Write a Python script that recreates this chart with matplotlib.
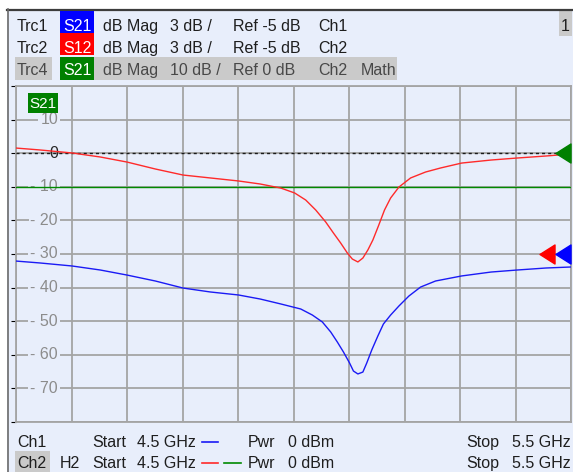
import numpy as np
import matplotlib
matplotlib.use("Agg")
import matplotlib.pyplot as plt
from matplotlib.path import Path
from matplotlib.patches import Rectangle
from matplotlib import transforms

plt.rcParams['font.family'] = ['Liberation Sans', 'DejaVu Sans']

# ---- trace data ----
# Trc1: S21, Ch1, dB Mag, 3 dB/div, Ref -5 dB
trc1_freq_ghz = [4.500, 4.543, 4.601, 4.652, 4.700, 4.751, 4.801, 4.850, 4.901, 4.940,
                 4.977, 5.013, 5.034, 5.052, 5.067, 5.079, 5.090, 5.101, 5.108, 5.116,
                 5.125, 5.132, 5.141, 5.152, 5.162, 5.175, 5.190, 5.208, 5.229, 5.256,
                 5.303, 5.356, 5.403, 5.455, 5.500]
trc1_db = [-5.63, -5.80, -6.07, -6.43, -6.88, -7.41, -8.04, -8.39, -8.66, -9.02,
           -9.46, -9.91, -10.45, -11.07, -11.96, -12.86, -13.75, -14.73, -15.45, -15.71,
           -15.54, -14.73, -13.57, -12.32, -11.25, -10.45, -9.64, -8.75, -7.95, -7.41,
           -6.96, -6.61, -6.43, -6.25, -6.16]

# Trc2: S12, Ch2, dB Mag, 3 dB/div, Ref -5 dB
trc2_freq_ghz = [4.500, 4.543, 4.601, 4.652, 4.700, 4.751, 4.801, 4.850, 4.901, 4.940,
                 4.977, 5.002, 5.022, 5.040, 5.058, 5.072, 5.085, 5.097, 5.106, 5.116,
                 5.125, 5.134, 5.143, 5.153, 5.164, 5.175, 5.190, 5.211, 5.238, 5.265,
                 5.303, 5.356, 5.403, 5.455, 5.500]
trc2_db = [4.46, 4.29, 4.02, 3.66, 3.21, 2.59, 2.05, 1.79, 1.52, 1.25,
           0.89, 0.45, -0.18, -1.07, -2.14, -3.13, -4.02, -4.91, -5.45, -5.71,
           -5.36, -4.64, -3.75, -2.50, -1.07, 0.00, 0.98, 1.79, 2.32, 2.68,
           3.12, 3.39, 3.57, 3.75, 3.93]

# Trc4: S21 math, Ch2, dB Mag, 10 dB/div, Ref 0 dB
trc4_freq_ghz = [4.50, 5.50]
trc4_db = [-10.0, -10.0]

y_tick_values = [10, 0, -10, -20, -30, -40, -50, -60, -70]
ref_trc12_db = -5.0
ref_trc4_db = 0.0

W, H = 573, 472
BG = '#E8EEFB'
GRID = '#A4A4A4'
HILITE = '#CACACA'
BLUE = '#1A1AF5'
RED = '#FF2A2A'
GREEN = '#008A00'
BOX_BLUE = '#0000FF'
BOX_RED = '#FF0000'
BOX_GREEN = '#008000'
FS = 11.5

fig = plt.figure(figsize=(W / 100, H / 100), dpi=100, facecolor='white')


def fx(x):
    return x / W


def fy(y):
    return 1 - y / H


def rect(x0, y0, x1, y1, color, z=1):
    fig.patches.append(Rectangle((fx(x0), fy(y1)), fx(x1) - fx(x0), fy(y0) - fy(y1),
                                 transform=fig.transFigure, facecolor=color,
                                 edgecolor='none', zorder=z))


def txt(x, y, s, color='#1E1E1E', ha='left', size=FS, z=5):
    fig.text(fx(x), fy(y), s, color=color, ha=ha, va='baseline', fontsize=size, zorder=z)


# panel background and frame
rect(7, 9, 573, 472, BG, z=-10)
fig.add_artist(plt.Line2D([fx(7), fx(573)], [fy(9.5), fy(9.5)], color='#3C3C3C', lw=1.6,
                          transform=fig.transFigure))
fig.add_artist(plt.Line2D([fx(7.5), fx(7.5)], [fy(9), fy(472)], color='#6A6A6A', lw=1.2,
                          transform=fig.transFigure))

# ---- header: trace info lines ----
rows = [
    dict(base=31, top=11, bot=33, trc='Trc1', par='S21', box=BOX_BLUE, scale='3 dB /',
         ref='Ref -5 dB', ch='Ch1', extra='', hl=False),
    dict(base=53, top=33, bot=55, trc='Trc2', par='S12', box=BOX_RED, scale='3 dB /',
         ref='Ref -5 dB', ch='Ch2', extra='', hl=False),
    dict(base=75, top=57, bot=80, trc='Trc4', par='S21', box=BOX_GREEN, scale='10 dB /',
         ref='Ref 0 dB', ch='Ch2', extra='Math', hl=True),
]
for r in rows:
    col = '#1E1E1E'
    if r['hl']:
        rect(15, r['top'], 52, r['bot'], HILITE)
        rect(94, r['top'], 397, r['bot'], HILITE)
        col = '#484848'
    rect(60, r['top'], 94, r['bot'], r['box'], z=2)
    txt(17, r['base'], r['trc'], color=col)
    txt(77, r['base'], r['par'], color='white', ha='center')
    txt(103, r['base'], 'dB Mag', color=col)
    txt(170, r['base'], r['scale'], color=col)
    txt(233, r['base'], r['ref'], color=col)
    txt(318, r['base'], r['ch'], color=col)
    if r['extra']:
        txt(361, r['base'], r['extra'], color=col)

rect(559, 10, 572, 36, HILITE)
txt(565.5, 31, '1', ha='center')

# ---- diagram area ----
ax = fig.add_axes([fx(16), fy(422), fx(571) - fx(16), fy(86) - fy(422)])
ax.set_facecolor(BG)
ax.set_xlim(4.5, 5.5)
ax.set_ylim(-80, 20)
ax.set_xticks(np.linspace(4.5, 5.5, 11))
ax.set_yticks(np.arange(-80, 21, 10))
ax.tick_params(left=False, bottom=False, labelleft=False, labelbottom=False)
ax.grid(True, color=GRID, lw=1.3)
for sp in ax.spines.values():
    sp.set_color(GRID)
    sp.set_linewidth(1.3)
ax.set_axisbelow(True)

ax2 = ax.twinx()
ax2.set_ylim(ref_trc12_db - 15, ref_trc12_db + 15)
ax2.set_yticks([])
ax2.patch.set_visible(False)
for sp in ax2.spines.values():
    sp.set_visible(False)

# y-axis value labels drawn inside the diagram
lab_trans = transforms.blended_transform_factory(ax.transAxes, ax.transData)
for v in y_tick_values:
    if v == 0:
        ax.text((58 - 16) / 555, v, '0', transform=lab_trans, ha='right', va='center',
                fontsize=FS, color='#262626', zorder=3)
    else:
        ax.text((58 - 16) / 555, v, f'{v}'.replace('-', '- '), transform=lab_trans,
                ha='right', va='center', fontsize=FS, color='#8C8C8C', zorder=3,
                bbox=dict(boxstyle='square,pad=0.12', facecolor=BG, edgecolor='none'))

# reference line of Trc4
ax.axhline(ref_trc4_db, color='#1A1A1A', lw=1.0, dashes=(2.2, 2.2), zorder=4)

# traces
ax.plot(trc4_freq_ghz, trc4_db, color=GREEN, lw=1.0, zorder=5)
ax2.plot(trc2_freq_ghz, trc2_db, color=RED, lw=1.0, zorder=5)
ax2.plot(trc1_freq_ghz, trc1_db, color=BLUE, lw=1.0, zorder=5)

# trace label inside diagram
fig.patches.append(Rectangle((fx(28), fy(113)), fx(58) - fx(28), fy(93) - fy(113),
                             transform=fig.transFigure, facecolor=BOX_GREEN,
                             edgecolor='none', zorder=6))
fig.text(fx(43), fy(108), 'S21', color='white', ha='center', va='baseline', fontsize=11,
         zorder=7)

# reference position markers on the right edge
tri = Path([(-0.79, 0), (0.79, 1), (0.79, -1), (-0.79, 0)],
           [Path.MOVETO, Path.LINETO, Path.LINETO, Path.CLOSEPOLY])
t_ax = transforms.blended_transform_factory(ax.transAxes, ax.transData)
t_ax2 = transforms.blended_transform_factory(ax.transAxes, ax2.transData)
for trans, yref, dx, col in [(t_ax, ref_trc4_db, -8, BOX_GREEN),
                             (t_ax2, ref_trc12_db, -24, BOX_RED),
                             (t_ax2, ref_trc12_db, -8, BOX_BLUE)]:
    tr = transforms.offset_copy(trans, fig=fig, x=dx, y=0, units='dots')
    ax2.plot([1.0], [yref], marker=tri, markersize=13.7, color=col, transform=tr,
             clip_on=False, zorder=8, linestyle='none')

# ---- footer: channel info ----
txt(17, 447, 'Ch1')
txt(92, 447, 'Start')
txt(137, 447, '4.5 GHz')
fig.add_artist(plt.Line2D([fx(202), fx(218)], [fy(442), fy(442)], color=BLUE, lw=1.2,
                          transform=fig.transFigure))
txt(248, 447, 'Pwr')
txt(288, 447, '0 dBm')
txt(466, 447, 'Stop')
txt(571, 447, '5.5 GHz', ha='right')

rect(15, 451, 50, 472, HILITE)
txt(17, 468, 'Ch2')
txt(60, 468, 'H2')
txt(92, 468, 'Start')
txt(137, 468, '4.5 GHz')
fig.add_artist(plt.Line2D([fx(202), fx(218)], [fy(463), fy(463)], color=RED, lw=1.2,
                          transform=fig.transFigure))
fig.add_artist(plt.Line2D([fx(224), fx(241)], [fy(463), fy(463)], color=GREEN, lw=1.2,
                          transform=fig.transFigure))
txt(248, 468, 'Pwr')
txt(288, 468, '0 dBm')
txt(466, 468, 'Stop')
txt(571, 468, '5.5 GHz', ha='right')

fig.savefig('out.png', dpi=100, facecolor='white')
